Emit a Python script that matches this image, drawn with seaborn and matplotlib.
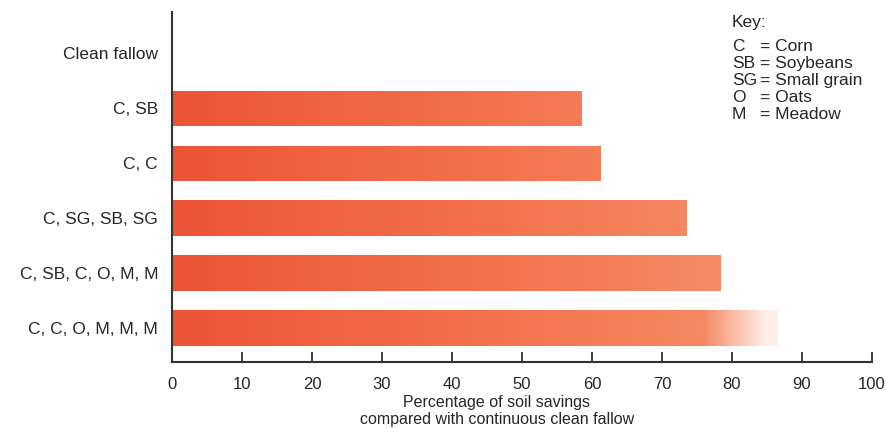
import numpy as np
import pandas as pd
import seaborn as sns
import matplotlib.pyplot as plt
from matplotlib.colors import LinearSegmentedColormap

# -------------------------------
# Data
# -------------------------------
rotations = ["Clean fallow", "C, SB", "C, C", "C, SG, SB, SG",
             "C, SB, C, O, M, M", "C, C, O, M, M, M"]
soil_savings = [0, 58.5, 61.2, 73.5, 78.4, 86.5]
key_abbrev = ["C", "SB", "SG", "O", "M"]
key_names = ["Corn", "Soybeans", "Small grain", "Oats", "Meadow"]
x_ticks = [0, 10, 20, 30, 40, 50, 60, 70, 80, 90, 100]

df = pd.DataFrame({"rotation": rotations, "savings": soil_savings})

# -------------------------------
# Style
# -------------------------------
sns.set_theme(style="white")
plt.rcParams['font.family'] = ['Liberation Sans', 'DejaVu Sans']
text_color = "#262626"

fig = plt.figure(figsize=(8.87, 4.34), dpi=100)
ax = fig.add_axes([172 / 887, 1 - 362 / 434, 700 / 887, 350 / 434])

sns.barplot(data=df, y="rotation", x="savings", orient="h", width=0.64,
            color="#ef6540", ax=ax, zorder=2)

# gradient fill for each bar (darker red at left, lighter orange at right)
cmap = LinearSegmentedColormap.from_list("soil", ["#ec5436", "#f3714b", "#f7936c"])
grad = np.linspace(0, 1, 256).reshape(1, -1)
for i, patch in enumerate(ax.patches):
    w = patch.get_width()
    if w <= 0:
        continue
    x0, y0 = patch.get_x(), patch.get_y()
    h = patch.get_height()
    patch.set_facecolor("none")
    patch.set_edgecolor("none")
    rgba = cmap(grad * w / 90.0)
    if i == len(ax.patches) - 1:
        # last bar fades out towards its end
        xs = grad[0] * w
        alpha = np.clip(1 - (xs - 76) / (w - 76), 0.15, 1)
        rgba[0, :, 3] = alpha
    im = ax.imshow(rgba, extent=[x0, x0 + w, y0 + h, y0], aspect="auto",
                   zorder=2, interpolation="bilinear")
    im.set_clip_path(patch)

ax.set_xlim(0, 100)
ax.set_ylim(5.62, -0.75)
ax.set_xticks(x_ticks)
ax.set_xticklabels([str(t) for t in x_ticks], fontsize=12, color=text_color)
ax.tick_params(axis="x", bottom=True, direction="in", length=7, width=1.3,
               color="#333333", pad=11)
ax.tick_params(axis="y", length=0, labelsize=12.5, labelcolor=text_color, pad=10)

sns.despine(ax=ax, top=True, right=True)
for side in ["left", "bottom"]:
    ax.spines[side].set_color("#333333")
    ax.spines[side].set_linewidth(1.5)

ax.set_ylabel("")
ax.set_xlabel("Percentage of soil savings\ncompared with continuous clean fallow",
              fontsize=11.5, color=text_color, linespacing=1.15)
ax.xaxis.set_label_coords((497 - 172) / 700, -0.095)
ax.xaxis.label.set_va("top")

# key (baseline aligned so abbreviations and names sit on one line)
key_size = 12.5
fig.text(732 / 887, 1 - 27 / 434, "Key:", fontsize=key_size, color=text_color,
         va="baseline", ha="left")
for j, (ab, name) in enumerate(zip(key_abbrev, key_names)):
    y = 1 - (51 + j * 17) / 434
    fig.text(732 / 887, y, ab, fontsize=key_size, color=text_color,
             va="baseline", ha="left")
    fig.text(760 / 887, y, "= " + name, fontsize=key_size, color=text_color,
             va="baseline", ha="left")

fig.savefig("out.png", dpi=100)
plt.close(fig)
